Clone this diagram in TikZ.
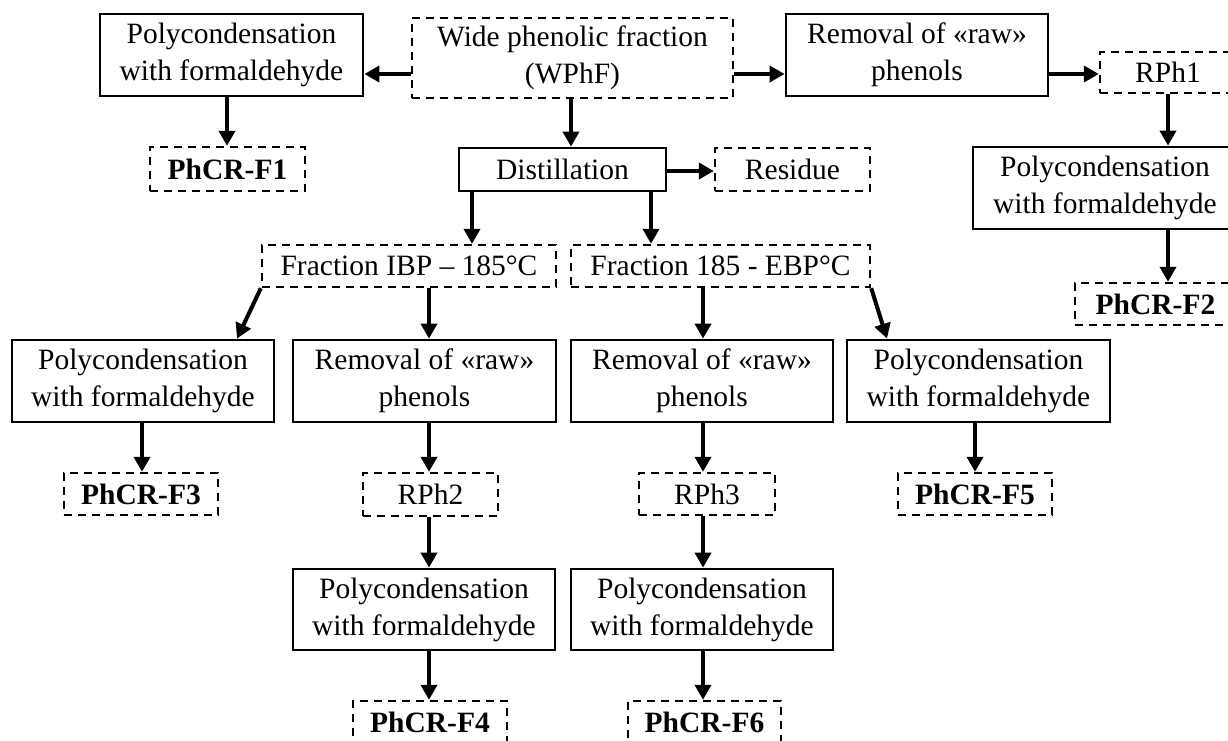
\documentclass[tikz,border=0pt]{standalone}
\usepackage{fontspec}
\setmainfont{Liberation Serif}
\usetikzlibrary{arrows.meta}
\tikzset{
  txt/.style={inner sep=0pt, align=center, font=\fontsize{29.5}{37}\selectfont},
  solidbox/.style={txt, draw, line width=2.8pt},
  dashbox/.style={txt, draw, line width=2.4pt, dash pattern=on 8pt off 6pt},
  boldbox/.style={dashbox, font=\fontsize{29.5}{37}\selectfont\bfseries},
  arr/.style={line width=4pt, -{Triangle[length=15pt,width=16pt]}},
}
\newcommand{\bx}[7]{\node[#2, minimum width={(#5-#3)*1pt}, minimum height={(#6-#4)*1pt}] (#1) at ({(#3+#5)/2},{(#4+#6)/2}) {#7};}
\begin{document}
\begin{tikzpicture}[x=1pt,y=-1pt]
\useasboundingbox (0,0) rectangle (1228,740);
\clip (0,0) rectangle (1228,740);
% boxes
\bx{poly1}{solidbox}{100}{14}{363}{96}{Polycondensation\\with formaldehyde}
\bx{f1}{boldbox}{150}{147}{305}{191}{PhCR-F1}
\bx{wphf}{dashbox}{412}{18}{733}{98}{Wide phenolic fraction\\(WPhF)}
\bx{dist}{solidbox}{459}{148}{666}{191}{Distillation}
\bx{res}{dashbox}{715}{148}{870}{191}{Residue}
\bx{rem1}{solidbox}{786}{14}{1048}{96}{Removal of «raw»\\phenols}
\bx{rph1}{dashbox}{1100}{52}{1236}{93}{RPh1}
\bx{poly2}{solidbox}{973}{147}{1237}{229}{Polycondensation\\with formaldehyde}
\bx{f2}{boldbox}{1075}{283}{1236}{325}{PhCR-F2}
\bx{fib}{dashbox}{262}{245}{556}{287}{Fraction IBP – 185°C}
\bx{febp}{dashbox}{571}{245}{870}{287}{Fraction 185 - EBP°C}
\bx{poly3}{solidbox}{12}{340}{274}{422}{Polycondensation\\with formaldehyde}
\bx{rem2}{solidbox}{293}{340}{556}{422}{Removal of «raw»\\phenols}
\bx{rem3}{solidbox}{571}{340}{833}{422}{Removal of «raw»\\phenols}
\bx{poly5}{solidbox}{847}{340}{1110}{422}{Polycondensation\\with formaldehyde}
\bx{f3}{boldbox}{64}{473}{218}{515}{PhCR-F3}
\bx{rph2}{dashbox}{363}{473}{498}{516}{RPh2}
\bx{rph3}{dashbox}{639}{473}{775}{515}{RPh3}
\bx{f5}{boldbox}{898}{473}{1052}{515}{PhCR-F5}
\bx{poly4}{solidbox}{293}{569}{555}{650}{Polycondensation\\with formaldehyde}
\bx{poly6}{solidbox}{571}{569}{833}{650}{Polycondensation\\with formaldehyde}
\bx{f4}{boldbox}{353}{701}{507}{744}{PhCR-F4}
\bx{f6}{boldbox}{628}{701}{781}{744}{PhCR-F6}
% helper coordinates for connector positions
\coordinate (yA) at (0,74);
\coordinate (yB) at (0,171);
\coordinate (xA) at (227,0);
\coordinate (xB) at (571,0);
\coordinate (xC) at (1168,0);
\coordinate (xD) at (472,0);
\coordinate (xE) at (651,0);
\coordinate (xF) at (429,0);
\coordinate (xG) at (703,0);
\coordinate (xH) at (142,0);
\coordinate (xI) at (975,0);
\coordinate (xJ) at (237,0);
\coordinate (xK) at (887,0);
% connectors
\draw[arr] (wphf.west |- yA) -- (poly1.east |- yA);
\draw[arr] (poly1.south -| xA) -- (f1.north -| xA);
\draw[arr] (wphf.south -| xB) -- (dist.north -| xB);
\draw[arr] (wphf.east |- yA) -- (rem1.west |- yA);
\draw[arr] (dist.east |- yB) -- (res.west |- yB);
\draw[arr] (rem1.east |- yA) -- (rph1.west |- yA);
\draw[arr] (rph1.south -| xC) -- (poly2.north -| xC);
\draw[arr] (poly2.south -| xC) -- (f2.north -| xC);
\draw[arr] (dist.south -| xD) -- (fib.north -| xD);
\draw[arr] (dist.south -| xE) -- (febp.north -| xE);
\draw[arr] (fib.south west) -- (poly3.north -| xJ);
\draw[arr] (fib.south -| xF) -- (rem2.north -| xF);
\draw[arr] (febp.south -| xG) -- (rem3.north -| xG);
\draw[arr] (febp.south east) -- (poly5.north -| xK);
\draw[arr] (poly3.south -| xH) -- (f3.north -| xH);
\draw[arr] (rem2.south -| xF) -- (rph2.north -| xF);
\draw[arr] (rph2.south -| xF) -- (poly4.north -| xF);
\draw[arr] (poly4.south -| xF) -- (f4.north -| xF);
\draw[arr] (rem3.south -| xG) -- (rph3.north -| xG);
\draw[arr] (rph3.south -| xG) -- (poly6.north -| xG);
\draw[arr] (poly6.south -| xG) -- (f6.north -| xG);
\draw[arr] (poly5.south -| xI) -- (f5.north -| xI);
\end{tikzpicture}
\end{document}
